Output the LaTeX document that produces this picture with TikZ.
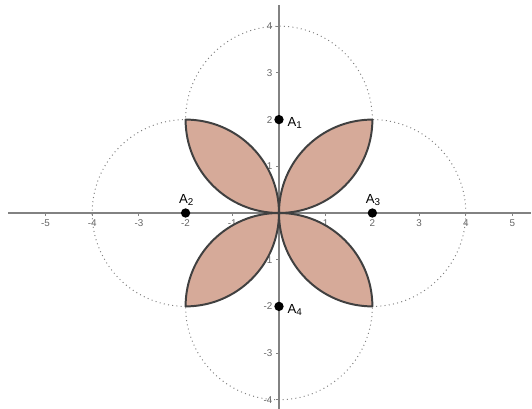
\documentclass[tikz,border=0pt]{standalone}
\usepackage{fontspec}
\setmainfont{Liberation Sans}
\usetikzlibrary{positioning}
\definecolor{petalfill}{RGB}{214,170,153}
\definecolor{axisgray}{RGB}{130,130,130}

\begin{document}
\begin{tikzpicture}[
  x=1cm, y=1cm,
  axis/.style={draw=axisgray, line width=0.8pt},
  tick/.style={draw=axisgray, line width=0.5pt},
  ticklabel/.style={font=\fontsize{6}{7}\selectfont, text=black!60, inner sep=1pt},
  guide/.style={draw=black!50, line width=0.6pt, dotted},
  petal/.style={fill=petalfill, draw=black!75, line width=1.2pt, line join=round},
  pt/.style={circle, fill=black, inner sep=0pt, minimum size=0.2cm},
  ptlabel/.style={font=\fontsize{8}{9}\selectfont, inner sep=1pt}
]
  \useasboundingbox (-5.974,-4.176) rectangle (5.418,4.561);

  % --- Dotted circles round the four points ---
  \foreach \cx/\cy in {0/2,-2/0,2/0,0/-2}
    \draw[guide] (\cx,\cy) circle[radius=2];

  % --- Axes ---
  \draw[axis] (-5.8,0) -- (5.4,0);
  \draw[axis] (0,-4.2) -- (0,4.45);

  % --- Ticks and numbers ---
  \foreach \x in {-5,...,-1,1,2,...,5}{
    \draw[tick] (\x,0) -- (\x,-0.06);
    \node[ticklabel, anchor=north] at (\x,-0.1) {\x};
  }
  \foreach \y in {-4,...,-1,1,2,...,4}{
    \draw[tick] (0,\y) -- (-0.06,\y);
    \node[ticklabel, anchor=east] at (-0.1,\y) {\y};
  }
  \node[ticklabel, anchor=north east] at (-0.08,-0.08) {0};

  % --- Four petals (lens of two neighbour circles) ---
  \foreach \r in {0,90,180,270}
    \filldraw[petal, rotate=\r] (0,0) arc[start angle=180, end angle=90, radius=2]
                                      arc[start angle=0, end angle=-90, radius=2] -- cycle;

  % --- Points ---
  \node[pt] (A1) at (0,2) {};
  \node[pt] (A2) at (-2,0) {};
  \node[pt] (A3) at (2,0) {};
  \node[pt] (A4) at (0,-2) {};
  \node[ptlabel, anchor=west] at ([xshift=1pt,yshift=-2pt]A1.east) {A\textsubscript{1}};
  \node[ptlabel, anchor=south west] at ([xshift=-3pt,yshift=1pt]A2.north west) {A\textsubscript{2}};
  \node[ptlabel, anchor=south west] at ([xshift=-3pt,yshift=1pt]A3.north west) {A\textsubscript{3}};
  \node[ptlabel, anchor=west] at ([xshift=1pt,yshift=-2pt]A4.east) {A\textsubscript{4}};
\end{tikzpicture}
\end{document}
